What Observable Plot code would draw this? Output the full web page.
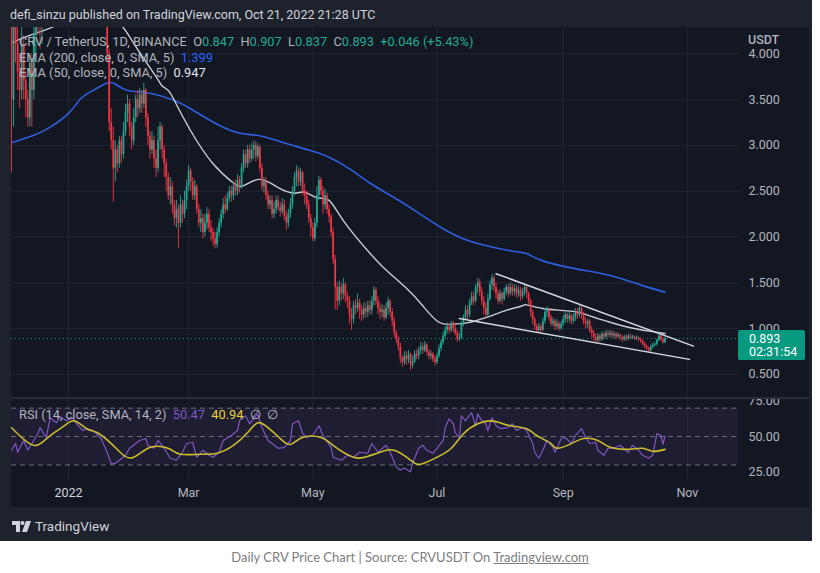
<!DOCTYPE html>
<html><head><meta charset="utf-8">
<script src="https://cdn.jsdelivr.net/npm/d3@7"></script>
<script src="https://cdn.jsdelivr.net/npm/@observablehq/plot@0.6"></script>
<style>
body{margin:0;background:#fff;width:820px;height:573px;position:relative;overflow:hidden;font-family:Roboto,"Noto Sans",sans-serif}
.abs{position:absolute;white-space:nowrap}
.g{color:#b2b5be}
</style></head><body>
<div class="abs" style="left:0;top:0;width:812px;height:541px;background:#1e222d"></div>
<div class="abs" style="left:11px;top:27px;width:798px;height:480px;background:#131722"></div>
<div id="price" class="abs" style="left:11px;top:27px"></div>
<div id="rsi" class="abs" style="left:11px;top:398px"></div>
<div class="abs" style="left:11px;top:397px;width:798px;height:2px;background:#2a2e39"></div>
<div id="tag" class="abs" style="left:738px;width:67px;height:30px;background:#089981;border-radius:2px;color:#fff;font-size:12.5px;line-height:13px;padding-top:2px;box-sizing:border-box;padding-left:11px">0.893<br>02:31:54</div>
<div class="abs" style="left:10px;top:7px;font-size:12.5px;color:#d1d4dc">defi_sinzu published on TradingView.com, Oct 21, 2022 21:28 UTC</div>
<div class="abs g" style="left:748px;top:32px;font-size:12.5px;font-weight:500">USDT</div>
<div class="abs g" style="left:19px;top:34px;font-size:12.8px">CRV / TetherUS, 1D, BINANCE&nbsp;&nbsp;O<span style="color:#22ab94">0.847</span>&nbsp;&nbsp;H<span style="color:#22ab94">0.907</span>&nbsp;&nbsp;L<span style="color:#22ab94">0.837</span>&nbsp;&nbsp;C<span style="color:#22ab94">0.893</span>&nbsp;&nbsp;<span style="color:#22ab94">+0.046 (+5.43%)</span></div>
<div class="abs g" style="left:19px;top:50px;font-size:12.8px">EMA (200, close, 0, SMA, 5)&nbsp;&nbsp;<span style="color:#2962ff">1.399</span></div>
<div class="abs g" style="left:19px;top:65px;font-size:12.8px">EMA (50, close, 0, SMA, 5)&nbsp;&nbsp;<span style="color:#e0e3eb">0.947</span></div>
<div class="abs g" style="left:19px;top:407px;font-size:12.8px">RSI (14, close, SMA, 14, 2)&nbsp;&nbsp;<span style="color:#7e57c2">50.47</span>&nbsp;&nbsp;<span style="color:#e8d43a">40.94</span>&nbsp;&nbsp;∅&nbsp;&nbsp;∅</div>
<div class="abs" style="left:12px;top:518px;height:16px;display:flex;align-items:center;color:#d1d4dc;font-size:13.5px">
<svg width="19" height="11" viewBox="0 0 19 11" style="margin-right:4px"><path d="M0 0H8V11H4V4H0Z" fill="#d1d4dc"/><circle cx="10.5" cy="2" r="2" fill="#d1d4dc"/><path d="M14 0H19L15 11H10Z" fill="#d1d4dc"/></svg>TradingView</div>
<div class="abs" style="left:0;width:820px;top:549px;text-align:center;font-family:Lato,sans-serif;font-size:13px;color:#7d7d7d">Daily CRV Price Chart | Source: CRVUSDT On <span style="text-decoration:underline">Tradingview.com</span></div>
<script>
// ---- data ----
const startDate = "2021-12-04"; // first daily candle
const firstOpen = 5.0;
const closes = [
3.5,4.3,4.1,3.8,3.6,4.1,3.7,3.5,3.3,3.9,3.6,4.2,4.6,4.5,4.3,4.7,4.9,
4.95,5.10,5.35,5.20,5.05,5.40,5.60,5.30,5.10,5.25,5.50,5.70,6.10,6.40,5.90,5.50,5.20,5.00,4.90,5.10,4.80,5.20,5.50,5.70,5.40,5.20,5.00,4.85,4.70,
4.45,4.00,3.25,3.05,2.75,2.95,2.80,3.05,2.90,3.15,3.35,3.45,3.20,3.05,3.30,3.50,3.40,3.55,3.45,3.60,3.30,3.10,2.95,3.05,2.85,2.75,3.05,3.20,2.95,2.80,2.65,2.45,2.55,2.35,2.20,2.30,2.15,2.35,2.25,2.40,2.55,2.72,2.60,2.45,2.55,2.30,2.15,2.20,2.05,2.15,2.25,2.10,2.05,1.98,
1.92,2.05,2.15,2.25,2.35,2.30,2.42,2.50,2.45,2.55,2.50,2.62,2.55,2.75,2.90,2.80,2.95,2.85,2.95,3.00,2.88,2.98,2.75,2.55,2.60,2.45,2.35,2.40,2.25,2.30,2.40,2.32,2.28,2.35,2.22,2.15,2.25,2.35,2.50,2.65,2.72,2.60,2.70,2.50,2.45,2.35,2.20,2.10,1.98,2.15,2.45,2.62,2.50,2.35,2.45,2.30,2.22,2.05,1.75,1.45,
1.30,1.45,1.38,1.48,1.35,1.30,1.15,1.10,1.25,1.22,1.28,1.20,1.15,1.22,1.18,1.25,1.20,1.30,1.42,1.30,1.22,1.18,1.20,1.12,1.22,1.30,1.18,1.08,0.95,0.88,0.80,0.68,0.63,0.70,0.66,0.72,0.60,0.64,0.72,0.70,0.76,0.80,0.76,0.82,0.74,0.70,0.72,0.66,0.63,0.70,0.78,0.85,0.92,0.98,1.02,0.98,1.06,1.00,0.95,0.88,
0.90,1.05,1.12,1.20,1.15,1.28,1.35,1.30,1.45,1.50,1.40,1.30,1.22,1.15,1.32,1.48,1.55,1.45,1.38,1.30,1.38,1.32,1.40,1.45,1.38,1.45,1.40,1.44,1.38,1.42,1.35,1.40,1.45,1.38,1.30,1.18,1.10,1.02,0.98,1.02,0.98,1.08,1.18,1.20,1.12,1.05,1.08,1.02,1.05,1.00,1.05,1.10,1.15,1.10,1.14,1.08,1.12,1.18,1.15,1.22,
1.15,1.08,1.05,1.08,0.98,0.95,0.90,0.87,0.92,0.88,0.94,0.91,0.95,0.93,0.95,0.92,0.94,0.91,0.93,0.90,0.88,0.91,0.89,0.92,0.90,0.91,0.89,0.90,0.88,0.86,0.83,0.80,0.78,0.76,0.80,0.82,0.83,0.87,0.92,0.88,0.847,0.893];
const highs = [
5.1,4.5,4.6,4.4,4.0,4.3,4.2,3.8,3.6,4.0,4.0,4.4,4.8,4.9,4.7,4.9,5.1,
5.10,5.25,5.50,5.45,5.30,5.55,5.75,5.70,5.40,5.40,5.65,5.85,6.25,6.60,6.45,6.00,5.60,5.30,5.10,5.25,5.20,5.35,5.65,5.85,5.80,5.50,5.30,5.10,4.95,
4.80,4.60,4.05,3.40,3.20,3.05,3.00,3.10,3.10,3.25,3.45,3.55,3.50,3.25,3.40,3.55,3.60,3.62,3.60,3.68,3.62,3.35,3.15,3.15,3.10,2.95,3.20,3.25,3.22,3.00,2.85,2.70,2.65,2.60,2.40,2.40,2.35,2.45,2.40,2.50,2.62,2.78,2.75,2.65,2.62,2.58,2.35,2.30,2.25,2.25,2.32,2.30,2.18,2.10,
2.05,2.10,2.20,2.30,2.42,2.45,2.48,2.55,2.55,2.60,2.62,2.68,2.66,2.80,2.95,2.95,3.00,3.00,3.02,3.05,3.04,3.02,3.00,2.80,2.65,2.65,2.50,2.45,2.45,2.38,2.45,2.45,2.38,2.42,2.40,2.28,2.30,2.42,2.55,2.70,2.78,2.76,2.75,2.72,2.58,2.50,2.40,2.25,2.15,2.20,2.55,2.66,2.65,2.55,2.52,2.48,2.35,2.25,2.10,1.80,
1.50,1.52,1.50,1.55,1.50,1.40,1.35,1.22,1.30,1.32,1.38,1.32,1.25,1.28,1.28,1.30,1.30,1.35,1.46,1.45,1.35,1.28,1.26,1.25,1.28,1.34,1.32,1.22,1.12,0.98,0.92,0.84,0.70,0.75,0.75,0.76,0.73,0.70,0.76,0.77,0.80,0.85,0.84,0.86,0.84,0.77,0.76,0.74,0.70,0.73,0.82,0.88,0.96,1.02,1.06,1.05,1.08,1.08,1.04,0.98,
0.95,1.08,1.15,1.25,1.25,1.32,1.40,1.40,1.48,1.55,1.54,1.45,1.35,1.28,1.38,1.52,1.59,1.58,1.50,1.42,1.42,1.40,1.44,1.48,1.48,1.50,1.48,1.48,1.47,1.46,1.45,1.44,1.48,1.47,1.40,1.32,1.20,1.12,1.05,1.06,1.05,1.12,1.22,1.24,1.22,1.15,1.12,1.10,1.10,1.08,1.08,1.14,1.18,1.17,1.18,1.16,1.16,1.22,1.22,1.25,
1.25,1.18,1.12,1.10,1.10,1.02,0.98,0.94,0.95,0.94,0.97,0.96,0.98,0.98,0.98,0.98,0.97,0.96,0.95,0.94,0.92,0.93,0.93,0.94,0.94,0.93,0.92,0.92,0.91,0.90,0.88,0.85,0.82,0.80,0.82,0.84,0.85,0.89,0.96,0.94,0.90,0.907];
const lows = [
2.7,3.2,3.9,3.6,3.4,3.5,3.5,3.3,3.2,3.2,3.2,3.5,4.0,4.2,4.05,4.1,4.4,
4.70,4.80,4.95,5.00,4.85,4.90,5.20,5.10,4.90,4.95,5.10,5.35,5.50,5.90,5.70,5.30,5.00,4.80,4.70,4.75,4.60,4.65,5.00,5.30,5.20,5.00,4.80,4.65,4.50,
4.30,3.90,3.15,2.95,2.38,2.60,2.70,2.75,2.80,2.85,3.10,3.25,3.10,2.95,3.00,3.25,3.30,3.35,3.35,3.40,3.20,3.00,2.85,2.90,2.75,2.65,2.70,2.95,2.85,2.65,2.50,2.40,2.35,2.25,2.12,2.10,1.88,2.10,2.15,2.20,2.30,2.50,2.50,2.40,2.40,2.25,2.10,2.05,1.98,2.00,2.08,2.05,1.95,1.90,
1.87,1.88,2.00,2.10,2.20,2.25,2.28,2.38,2.38,2.40,2.45,2.45,2.48,2.52,2.70,2.75,2.75,2.80,2.82,2.85,2.82,2.85,2.70,2.50,2.48,2.40,2.30,2.30,2.20,2.20,2.25,2.28,2.22,2.25,2.18,2.07,2.10,2.20,2.30,2.45,2.55,2.55,2.55,2.45,2.35,2.30,2.15,2.00,1.95,1.95,2.10,2.40,2.45,2.25,2.30,2.25,2.15,2.00,1.70,1.20,
1.20,1.25,1.30,1.32,1.28,1.22,1.05,0.98,1.05,1.15,1.18,1.10,1.08,1.10,1.12,1.12,1.15,1.15,1.25,1.25,1.15,1.10,1.12,1.08,1.10,1.15,1.12,1.02,0.90,0.84,0.75,0.62,0.58,0.60,0.60,0.62,0.54,0.56,0.62,0.66,0.66,0.72,0.72,0.74,0.70,0.66,0.66,0.63,0.59,0.61,0.68,0.75,0.82,0.88,0.94,0.94,0.96,0.95,0.92,0.85,
0.86,0.88,1.02,1.10,1.10,1.12,1.25,1.25,1.28,1.38,1.35,1.25,1.15,1.12,1.12,1.30,1.42,1.40,1.32,1.26,1.28,1.26,1.30,1.36,1.34,1.36,1.35,1.36,1.33,1.34,1.30,1.32,1.36,1.33,1.25,1.12,1.04,0.98,0.95,0.95,0.95,0.97,1.05,1.12,1.08,1.02,1.02,0.98,0.99,0.97,0.98,1.02,1.06,1.06,1.06,1.04,1.05,1.08,1.10,1.12,
1.10,1.04,1.00,1.00,0.95,0.90,0.86,0.84,0.85,0.85,0.86,0.88,0.88,0.90,0.90,0.89,0.89,0.88,0.89,0.87,0.85,0.86,0.86,0.87,0.88,0.88,0.87,0.87,0.86,0.84,0.81,0.78,0.74,0.73,0.74,0.78,0.80,0.81,0.86,0.86,0.83,0.837];

// EMA lines (day index from startDate, value)
const ema200Day = [0,11,19,28,34,40,47,51,57,68,80,88,102,113,123,135,146,156,167,176,188,196,212,221,229,245,253,261,278,294,310,321];
const ema200Val = [3.03,3.11,3.20,3.35,3.51,3.60,3.68,3.67,3.60,3.57,3.49,3.40,3.22,3.13,3.10,3.02,2.95,2.87,2.73,2.59,2.43,2.32,2.09,1.99,1.93,1.85,1.82,1.74,1.65,1.58,1.47,1.399];
const ema50Day = [0,10,22,30,38,46,54,61,71,74,77,80,88,99,109,114,122,131,139,144,150,156,163,175,184,194,202,210,217,223,233,243,251,253,261,270,278,284,294,304,314,321];
const ema50Val = [4.12,4.21,4.31,4.45,4.55,4.45,4.31,4.08,3.75,3.65,3.60,3.49,3.16,2.80,2.59,2.56,2.63,2.54,2.48,2.49,2.43,2.40,2.18,1.85,1.64,1.44,1.25,1.07,1.05,1.06,1.12,1.20,1.25,1.26,1.22,1.20,1.18,1.14,1.07,1.01,0.97,0.947];

// falling-wedge trend lines
const upperDay = [238,335], upperVal = [1.60,0.81];
const lowerDay = [220,333], lowerVal = [1.11,0.665];

// RSI (14) and its SMA
const rsiDay = [0,2,3,6,8,10,13,14,17,19,22,24,27,30,32,35,37,40,44,47,49,51,53,56,58,61,63,66,67,70,72,75,78,81,84,86,89,91,94,97,99,102,104,108,111,112,115,117,121,123,126,128,131,134,137,138,141,143,145,148,151,153,157,158,162,165,168,171,175,177,180,184,186,189,191,193,196,197,200,202,204,207,209,212,213,215,217,218,220,221,223,224,226,228,229,231,233,234,236,238,240,244,246,248,251,253,256,257,259,261,263,266,267,270,272,275,277,280,282,284,287,288,291,293,297,299,303,305,308,310,313,315,317,319,320,321];
const rsiVal = [40.3,45.1,38.9,47.2,40.3,45.1,52.1,56.3,49.3,63.2,59.7,64.0,61.1,63.2,59.0,54.2,55.6,54.2,48.6,38.9,30.6,31.3,33.3,36.8,41.7,45.1,47.2,48.6,43.8,41.7,47.2,41.7,34.7,33.3,38.9,45.1,45.8,35.4,40.3,36.8,35.4,38.9,47.2,50.7,54.2,61.1,64.6,59.0,66.0,56.3,47.2,45.1,41.7,42.4,47.2,59.0,61.1,52.1,49.3,50.7,57.6,50.7,42.4,35.4,33.3,36.8,35.4,38.9,38.2,45.1,38.9,43.8,38.9,28.5,26.4,27.8,25.0,31.3,41.7,43.8,40.3,38.2,41.7,47.2,56.3,62.5,59.0,52.8,49.3,64.6,61.1,63.2,66.7,57.6,66.0,61.1,59.0,54.2,63.2,57.6,55.6,56.3,59.0,54.2,56.3,54.2,45.1,38.9,34.7,40.3,47.2,42.4,38.9,48.6,49.3,45.1,50.7,55.6,49.3,45.1,45.8,40.3,36.8,41.7,42.4,43.8,38.9,43.8,40.3,36.8,34.7,36.8,52.1,50.7,44.4,50.47];
const rsiMaDay = [0,5,11,16,21,26,31,37,42,49,55,60,67,73,78,83,93,101,109,116,121,126,132,137,143,152,158,168,175,181,188,196,201,209,216,222,229,235,240,245,253,258,265,268,275,281,288,294,303,310,315,321];
const rsiMaVal = [56.2,49.3,43.7,47.0,52.8,57.6,61.0,55.5,52.8,45.0,36.8,35.4,41.7,43.0,41.0,37.5,37.5,38.2,43.7,52.8,59.7,56.2,48.6,44.4,49.3,49.3,43.7,35.4,36.0,38.9,40.3,33.3,30.5,35.4,41.7,52.0,59.0,61.0,59.7,57.6,55.5,50.7,45.0,41.7,45.0,48.6,47.2,42.4,41.0,41.7,39.6,40.94];

const priceTicks = [0.5,1,1.5,2,2.5,3,3.5,4];
const rsiTicks = [75,50,25];
const rsiLevels = [70,50,30];
const monthTicks = ["2022-01-01","2022-03-01","2022-05-01","2022-07-01","2022-09-01","2022-11-01"];
const monthLabels = ["2022","Mar","May","Jul","Sep","Nov"];
const lastPrice = 0.893;

// ---- build ----
const t0 = new Date(startDate + "T00:00:00Z").getTime();
const day = d => new Date(t0 + d * 864e5);
const candles = closes.map((c, i) => ({date: day(i), open: i ? closes[i-1] : firstOpen, close: c, high: highs[i], low: lows[i]}));
const up = candles.filter(d => d.close >= d.open);
const down = candles.filter(d => d.close < d.open);
const pts = (ds, vs) => ds.map((d, i) => ({date: day(d), v: vs[i]}));
const months = monthTicks.map((m, i) => ({date: new Date(m + "T00:00:00Z"), label: monthLabels[i]}));
const xDomain = [day(0), day(357.1)];
const GREEN = "#22ab94", RED = "#f23645", GRID = "#232733", AXIS = "#b2b5be";
const style = {background: "transparent", overflow: "hidden", fontFamily: "Roboto, sans-serif"};

const price = Plot.plot({
  width: 798, height: 371, marginTop: 0, marginLeft: 0, marginBottom: 0, marginRight: 71,
  style,
  x: {type: "utc", domain: xDomain, axis: null},
  y: {domain: [0.238, 4.287], axis: null},
  marks: [
    Plot.ruleY(priceTicks, {stroke: GRID, strokeWidth: 1}),
    Plot.ruleX(months, {x: "date", stroke: GRID, strokeWidth: 1}),
    Plot.ruleY([lastPrice], {stroke: "#089981", strokeWidth: 1, strokeDasharray: "1,3"}),
    Plot.line(pts(ema200Day, ema200Val), {x: "date", y: "v", stroke: "#2f5ee0", strokeWidth: 1.6, curve: "natural", clip: true}),
    Plot.line(pts(ema50Day, ema50Val), {x: "date", y: "v", stroke: "#c9ccd4", strokeWidth: 1.4, curve: "natural", clip: true}),
    Plot.ruleX(up, {x: "date", y1: "low", y2: "high", stroke: GREEN, strokeWidth: 0.9, clip: true}),
    Plot.ruleX(down, {x: "date", y1: "low", y2: "high", stroke: RED, strokeWidth: 0.9, clip: true}),
    Plot.ruleX(up, {x: "date", y1: "open", y2: "close", stroke: GREEN, strokeWidth: 1.7, clip: true}),
    Plot.ruleX(down, {x: "date", y1: "open", y2: "close", stroke: RED, strokeWidth: 1.7, clip: true}),
    Plot.line(pts(upperDay, upperVal), {x: "date", y: "v", stroke: "#d6d8de", strokeWidth: 1.5, clip: true}),
    Plot.line(pts(lowerDay, lowerVal), {x: "date", y: "v", stroke: "#d6d8de", strokeWidth: 1.5, clip: true}),
    Plot.text(priceTicks, {y: d => d, text: d => d.toFixed(3), frameAnchor: "right", dx: 10, textAnchor: "start", fill: AXIS, fontSize: 12.5})
  ]
});
document.getElementById("price").appendChild(price);
const yTag = price.scale("y").apply(lastPrice);
document.getElementById("tag").style.top = (27 + yTag - 8) + "px";

const rsi = Plot.plot({
  width: 798, height: 109, marginTop: 0, marginLeft: 0, marginBottom: 27, marginRight: 71,
  style,
  x: {type: "utc", domain: xDomain, axis: null},
  y: {domain: [19.0, 76.8], axis: null},
  marks: [
    Plot.rect([{a: xDomain[0], b: xDomain[1], lo: 30, hi: 70}], {x1: "a", x2: "b", y1: "lo", y2: "hi", fill: "#7e57c2", fillOpacity: 0.1}),
    Plot.ruleX(months, {x: "date", stroke: GRID, strokeWidth: 1}),
    Plot.ruleY(rsiLevels, {stroke: "#6a6d78", strokeWidth: 1, strokeDasharray: "5,4"}),
    Plot.line(pts(rsiDay, rsiVal), {x: "date", y: "v", stroke: "#7e57c2", strokeWidth: 1.2}),
    Plot.line(pts(rsiMaDay, rsiMaVal), {x: "date", y: "v", stroke: "#cdbb2e", strokeWidth: 1.6, curve: "natural"}),
    Plot.text(rsiTicks, {y: d => d, text: d => d.toFixed(2), frameAnchor: "right", dx: 10, textAnchor: "start", fill: AXIS, fontSize: 12.5}),
    Plot.text(months, {x: "date", text: "label", frameAnchor: "bottom", dy: 16, fill: d => d.label === "2022" ? "#d1d4dc" : AXIS, fontWeight: d => d.label === "2022" ? "bold" : "normal", fontSize: 12.5})
  ]
});
document.getElementById("rsi").appendChild(rsi);
</script>
</body></html>
